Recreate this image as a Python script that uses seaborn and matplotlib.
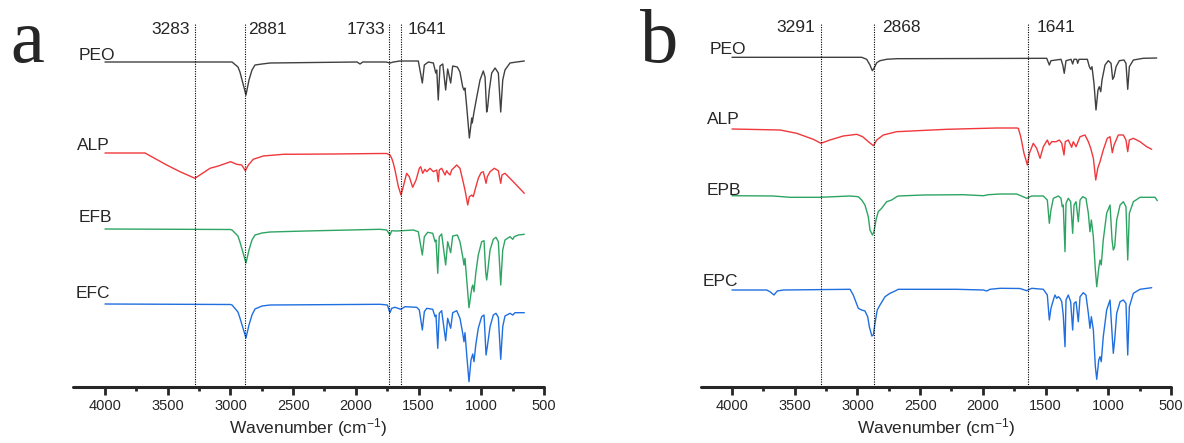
import matplotlib
matplotlib.use("Agg")
import matplotlib.pyplot as plt
import seaborn as sns

# FTIR spectra (arbitrary stacked transmittance units)
# ---- panel a ----
a_peo_wn = [4000, 2987, 2940, 2924, 2876, 2852, 2828, 2804, 2748, 2684, 1990, 1967, 1945, 1760, 1728,
            1700, 1648, 1502, 1470, 1454, 1422, 1382, 1363, 1355, 1343, 1329, 1307, 1284, 1268, 1244,
            1228, 1191, 1170, 1148, 1138, 1130, 1116, 1095, 1076, 1072, 1058, 1036, 1010, 984, 970,
            957, 949, 936, 917, 890, 864, 845, 829, 811, 771, 718, 657]
a_peo_t = [325, 325, 320, 315, 292, 307, 317, 322, 323, 324, 325, 323, 325, 325, 324,
           325, 326, 326, 304, 322, 325, 324, 314, 317, 287, 321, 323, 297, 318, 304,
           321, 320, 315, 300, 297, 299, 280, 249, 269, 264, 275, 290, 307, 316, 310,
           275, 280, 297, 314, 319, 314, 275, 307, 317, 324, 325, 326]

a_alp_wn = [4000, 3681, 3508, 3402, 3283, 3163, 3097, 2998, 2950, 2910, 2881, 2857, 2818, 2738, 2578,
            2180, 1807, 1754, 1728, 1714, 1701, 1688, 1661, 1640, 1622, 1595, 1574, 1547, 1520, 1494,
            1483, 1467, 1449, 1435, 1409, 1382, 1355, 1343, 1335, 1316, 1289, 1276, 1263, 1249, 1236,
            1196, 1170, 1148, 1130, 1108, 1095, 1076, 1064, 1050, 1024, 1002, 984, 962, 952, 930,
            896, 864, 845, 835, 811, 745, 657]
a_alp_t = [234, 234, 222, 215.3, 208.7, 218.7, 221, 225.3, 222.7, 222, 216.3, 222, 227.7, 231, 232.7,
           233, 233.5, 233.5, 232, 228.7, 223.7, 217, 200.3, 192, 200.3, 213.7, 210.3, 199.7, 207, 218.7,
           220.3, 213.7, 217.7, 215.3, 218.7, 215.3, 217, 205.3, 217, 218.7, 212, 216.3, 213.7, 212, 217,
           222, 218.7, 207, 197, 182, 190.3, 192, 190.3, 197, 208.7, 214.3, 215.3, 203.7, 210.3, 215.3,
           218.7, 216.3, 203.7, 212, 213.7, 205.3, 193.7]

a_efb_wn = [4000, 3000, 2987, 2940, 2924, 2876, 2852, 2828, 2804, 2748, 2684, 2400, 1807, 1754, 1728,
            1714, 1674, 1634, 1542, 1502, 1470, 1454, 1427, 1387, 1369, 1361, 1347, 1335, 1316, 1284,
            1268, 1244, 1228, 1191, 1170, 1148, 1138, 1130, 1116, 1098, 1076, 1068, 1058, 1044, 1024,
            997, 978, 965, 957, 949, 930, 904, 883, 864, 845, 829, 811, 771, 749, 737, 705, 657]
a_efb_t = [158, 157.5, 157, 151, 145, 124, 137, 147, 152, 154, 155, 156, 157.7, 157, 152,
           156.3, 156, 156.3, 157, 155.3, 132, 150.3, 154.7, 153.7, 145.3, 147, 113.7, 150.3, 153, 122,
           145.3, 134.3, 151, 152, 145.3, 130.3, 122, 128.7, 107, 79.3, 98.7, 102, 95.3, 113.7, 132,
           145.3, 146.3, 115.3, 107, 115.3, 137, 147.7, 149.7, 145.3, 102, 137, 147, 150.3, 147.7, 150.3, 152, 152.7]

a_efc_wn = [4000, 3000, 2987, 2940, 2924, 2876, 2852, 2828, 2804, 2748, 2684, 1807, 1749, 1728, 1714,
            1688, 1642, 1608, 1515, 1494, 1470, 1454, 1435, 1387, 1369, 1361, 1347, 1335, 1316, 1284,
            1268, 1244, 1228, 1196, 1170, 1148, 1138, 1130, 1116, 1098, 1082, 1068, 1058, 1044, 1024,
            997, 978, 962, 952, 930, 904, 883, 864, 845, 829, 811, 771, 749, 731, 697, 657]
a_efc_t = [83, 82.5, 82, 75, 69, 49, 62, 72, 78, 81, 82, 82.7, 82, 74.3, 78.7,
           79.7, 77.7, 80.3, 79.7, 77, 57, 75.3, 78.7, 77.7, 70.3, 72, 38.7, 73.7, 76.3, 46.3,
           68.7, 58.7, 74.3, 76.3, 68.7, 53.7, 45.3, 54.3, 32, 5.3, 27, 33, 25.3, 42, 58.7,
           70.3, 72, 32, 40.3, 60.3, 72, 73.7, 69.7, 27.7, 60.3, 71, 73.7, 72, 74.3, 74.3, 74.3]

# ---- panel b ----
b_peo_wn = [4000, 2966, 2926, 2900, 2881, 2868, 2846, 2820, 2767, 2687, 2000, 1491, 1470, 1457, 1377,
            1363, 1351, 1337, 1297, 1284, 1273, 1252, 1244, 1233, 1167, 1151, 1140, 1130, 1114, 1098,
            1082, 1072, 1060, 1050, 1026, 1000, 978, 965, 954, 938, 912, 875, 859, 845, 832, 800, 721, 614]
b_peo_t = [329.7, 329.7, 327.7, 322, 316.3, 318.7, 324.3, 326.3, 327.7, 328.3, 328.5, 328.7, 322, 326.3, 327.7,
           322, 313.7, 326.3, 327.7, 323, 327.7, 327.7, 323.7, 327.7, 327.7, 320.3, 317.7, 320.3, 303.7, 277,
           297, 300.3, 295.3, 307, 322, 326.3, 323.7, 307.7, 310.3, 320.3, 326.3, 327, 323.7, 297.7, 320.3, 327, 328.7, 329]

b_alp_wn = [4000, 3617, 3484, 3352, 3291, 3219, 3113, 3006, 2958, 2913, 2872, 2846, 2794, 2687, 2288,
            1890, 1730, 1717, 1698, 1672, 1645, 1629, 1598, 1571, 1544, 1518, 1486, 1470, 1451, 1417,
            1390, 1371, 1353, 1343, 1319, 1292, 1279, 1257, 1225, 1186, 1159, 1140, 1119, 1100, 1084,
            1066, 1040, 1008, 986, 968, 954, 920, 880, 859, 845, 832, 800, 747, 694, 654]
b_alp_t = [258, 257, 253.7, 247.7, 243.7, 247, 251, 252.7, 250.3, 245.3, 241.3, 247, 252, 255.3, 257.7,
           259, 259, 258.7, 250.3, 233.7, 222, 233.7, 243.7, 238.7, 228.7, 240.3, 247, 242, 245.3, 245.3,
           247, 243.7, 232, 245.3, 247, 239.7, 245.3, 240.3, 250.3, 252, 245.3, 238.7, 228.7, 207, 218.7,
           225.3, 237, 248.7, 250.3, 234.3, 242, 252, 252, 247, 235.3, 247, 248.7, 245.3, 240.3, 237.7]

b_epb_wn = [4000, 3671, 3538, 3298, 3059, 2993, 2966, 2940, 2913, 2900, 2880, 2868, 2852, 2834, 2807,
            2767, 2727, 2687, 2674, 2475, 2156, 1996, 1956, 1863, 1730, 1650, 1610, 1518, 1486, 1470,
            1457, 1438, 1398, 1377, 1367, 1359, 1345, 1337, 1319, 1300, 1284, 1273, 1257, 1239, 1225,
            1204, 1178, 1159, 1146, 1135, 1119, 1103, 1092, 1076, 1066, 1056, 1040, 1013, 986, 970,
            960, 949, 933, 906, 880, 859, 845, 832, 800, 747, 627, 609]
b_epb_t = [191.3, 191, 189.7, 189.7, 191, 190.3, 187, 182, 170.3, 157, 152, 155.3, 167, 175.3, 178.7,
           185.3, 187, 190.3, 191, 192, 192.3, 191.3, 192.3, 193, 193, 188.7, 191, 191, 187, 163.7,
           177, 188.7, 191, 188.7, 180.3, 182, 135.3, 183.7, 188.7, 185.3, 153.7, 182, 185.3, 165.3, 187,
           190.3, 188.7, 173.7, 155.3, 167, 150.3, 117, 100.3, 118.7, 127, 122, 147, 173.7, 182, 147,
           137, 140.3, 167, 182, 185.3, 180.3, 127, 173.7, 185.3, 189.7, 189.7, 186.3]

b_epc_wn = [4000, 3723, 3697, 3665, 3639, 3591, 3059, 3033, 2993, 2966, 2940, 2918, 2905, 2885, 2873,
            2860, 2842, 2820, 2780, 2740, 2700, 2674, 2208, 1996, 1969, 1943, 1863, 1704, 1650, 1610,
            1518, 1486, 1470, 1457, 1438, 1425, 1411, 1398, 1385, 1371, 1359, 1345, 1337, 1319, 1300,
            1284, 1273, 1257, 1239, 1225, 1199, 1178, 1159, 1146, 1135, 1119, 1103, 1092, 1076, 1066,
            1056, 1040, 1013, 986, 970, 960, 949, 933, 906, 880, 859, 845, 832, 800, 747, 654]
b_epc_t = [97, 97, 95.3, 92, 96, 97, 97.7, 92, 78.7, 77, 76, 70.3, 60.3, 51, 52,
           63.7, 77, 82, 90.3, 93.7, 96, 97.7, 97.7, 97, 96, 97.7, 98.7, 98.5, 96.3, 98.7,
           97.7, 92, 67, 78.7, 87, 92, 88.7, 90.3, 88.7, 85.3, 72, 40.3, 87, 92, 85.3,
           57, 83.7, 85.3, 65.3, 90.3, 94.3, 92, 73.7, 58.7, 70.3, 57, 20.3, 7.7, 27, 30.3,
           25.3, 50.3, 77, 87, 53.7, 33.7, 47, 73.7, 85.3, 87, 83.7, 32, 80.3, 93.7, 97.7, 99.3]

a_names = ["PEO", "ALP", "EFB", "EFC"]
b_names = ["PEO", "ALP", "EPB", "EPC"]
a_peaks = [3283, 2881, 1733, 1641]
b_peaks = [3291, 2868, 1641]

colors = ["#404040", "#f0383c", "#2ea463", "#1f6fe0"]
# where the sample names sit (wavenumber, level)
a_name_pos = [(4207, 331), (4221, 241), (4207, 170), (4235, 94)]
b_name_pos = [(4181, 337), (4197, 267), (4202, 196.5), (4237, 106)]
# label offsets in points: (dx, ha)
a_peak_off = [(-4, "right"), (2, "left"), (-3, "right"), (5, "left")]
b_peak_off = [(-4, "right"), (6, "left"), (6, "left")]

sns.set_style("white")
plt.rcParams["font.family"] = ["Liberation Sans", "DejaVu Sans"]
plt.rcParams["mathtext.default"] = "regular"

fig = plt.figure(figsize=(11.84, 4.43), dpi=100)
ax_a = fig.add_axes([73 / 1184, 56 / 443, 471 / 1184, 367 / 443])
ax_b = fig.add_axes([701 / 1184, 56 / 443, 470 / 1184, 367 / 443])

panels = [
    (ax_a, [(a_peo_wn, a_peo_t), (a_alp_wn, a_alp_t), (a_efb_wn, a_efb_t), (a_efc_wn, a_efc_t)],
     a_names, a_name_pos, a_peaks, a_peak_off, 357, 4255),
    (ax_b, [(b_peo_wn, b_peo_t), (b_alp_wn, b_alp_t), (b_epb_wn, b_epb_t), (b_epc_wn, b_epc_t)],
     b_names, b_name_pos, b_peaks, b_peak_off, 360, 4247),
]

for ax, spectra, names, name_pos, peaks, peak_off, label_y, xleft in panels:
    for (wn, t), c in zip(spectra, colors):
        sns.lineplot(x=wn, y=t, ax=ax, color=c, lw=1.0, sort=False, estimator=None)
    for name, (x, y) in zip(names, name_pos):
        ax.text(x, y, name, fontsize=12.5, ha="left", va="center")
    ax.vlines(peaks, 0, 364, colors="black", linestyles=(0, (1, 1.2)), lw=0.8)
    for p, (dx, ha) in zip(peaks, peak_off):
        ax.annotate(str(p), xy=(p, label_y), xytext=(dx, 0), textcoords="offset points",
                    ha=ha, va="center", fontsize=12.5)
    ax.set_xlim(xleft, 500)
    ax.set_ylim(0, 367)
    ax.set_xticks([4000, 3500, 3000, 2500, 2000, 1500, 1000, 500])
    ax.set_xticks([3750, 3250, 2750, 2250, 1750, 1250, 750], minor=True)
    ax.set_yticks([])
    for s in ["top", "left", "right"]:
        ax.spines[s].set_visible(False)
    ax.spines["bottom"].set_linewidth(2.2)
    ax.spines["bottom"].set_capstyle("round")
    ax.tick_params(axis="x", which="major", direction="out", length=6, width=2, labelsize=10.5, pad=3,
                   bottom=True)
    ax.tick_params(axis="x", which="minor", direction="out", length=3, width=2, bottom=True)
    ax.set_xlabel("Wavenumber (cm$^{-1}$)", fontsize=12.5, labelpad=2)
    ax.set_ylabel("")
    ax.patch.set_alpha(0)

fig.text(10 / 1184, 1 - 62 / 443, "a", fontsize=55, family="Liberation Serif", va="baseline")
fig.text(640 / 1184, 1 - 62 / 443, "b", fontsize=55, family="Liberation Serif", va="baseline")

fig.savefig("out.png", dpi=100)
